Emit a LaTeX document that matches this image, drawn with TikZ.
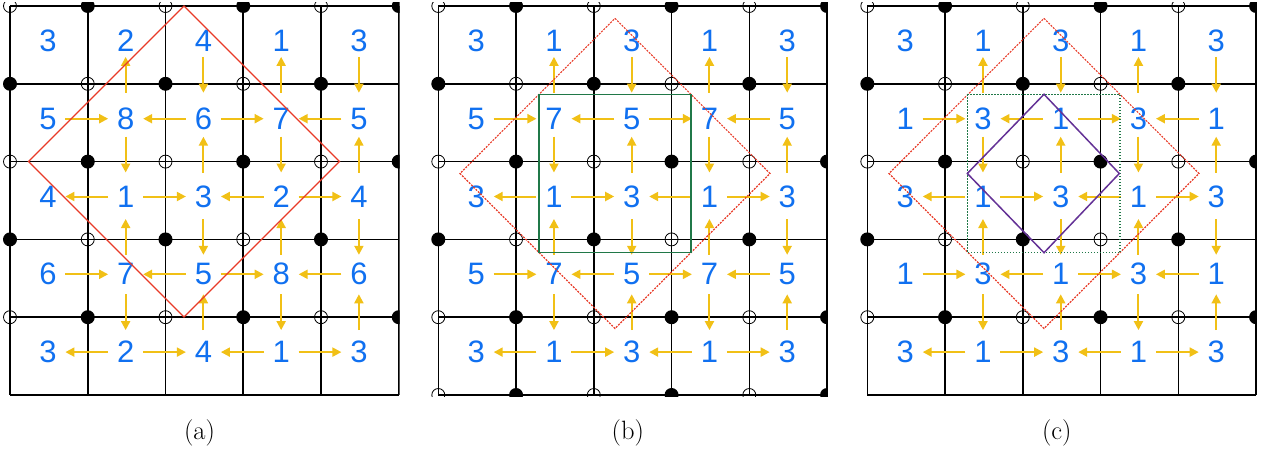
\documentclass[tikz,border=0pt]{standalone}
\usepackage{fontspec}
\newfontfamily\numfont{Liberation Sans}
\usetikzlibrary{arrows.meta}
\definecolor{numblue}{RGB}{16,112,240}
\definecolor{arryel}{RGB}{241,192,22}
\definecolor{redl}{RGB}{232,58,40}
\definecolor{greenl}{RGB}{32,120,72}
\definecolor{purl}{RGB}{100,50,150}
\tikzset{
  gridline/.style={line width=1.6pt, black},
  num/.style={text=numblue, font=\numfont\fontsize{31}{32}\selectfont, inner sep=0pt},
  yarrow/.style={draw=arryel, line width=2pt, -{Triangle[length=9pt,width=9pt]}},
  redsolid/.style={draw=redl, line width=1.3pt, line join=miter},
  reddot/.style={draw=redl, line width=1.1pt, dash pattern=on 2pt off 1.2pt},
  greensolid/.style={draw=greenl, line width=1.5pt},
  greendot/.style={draw=greenl, line width=1.1pt, dash pattern=on 1.2pt off 1.8pt},
  purpline/.style={draw=purl, line width=1.5pt},
  lab/.style={font=\fontsize{26.5}{30}\selectfont, inner sep=0pt},
}
% #1 panel name, #2 x origin, #3 rows of numbers, #4 bottom dots (1/0)
\newcommand\drawpanel[4]{%
  \begin{scope}
    \clip (#2-9,3) rectangle (#2+389.5,396);
    \foreach \i in {0,...,5} {
      \draw[gridline] (#2+\i*77.75,6) -- (#2+\i*77.75,395);
      \draw[gridline] (#2,6+\i*77.8) -- (#2+388.75,6+\i*77.8);
    }
    \foreach \j in {0,...,4} {
      \foreach \i in {0,...,4} {
        \pgfmathtruncatemacro\parity{mod(\i+\j,2)}
        \ifnum\parity=1
          \fill (#2+\i*77.75,6+\j*77.8) circle (7pt);
        \else
          \draw[line width=0.8pt] (#2+\i*77.75,6+\j*77.8) circle (6.5pt);
        \fi
      }
    }
    \foreach \j in {0,2,4} { \fill (#2+5*77.75,6+\j*77.8) circle (7pt); }
    \ifnum#4=1
      \foreach \i in {0,2,4} { \draw[line width=0.8pt] (#2+\i*77.75,395) circle (6.5pt); }
      \foreach \i in {1,3,5} { \fill (#2+\i*77.75,395) circle (7pt); }
    \fi
  \end{scope}
  \foreach \row [count=\rr from 0] in {#3} {
    \foreach \v [count=\cc from 0] in \row {
      \node[num] (#1-\rr-\cc) at (#2+\cc*77.75+38.9-1, 6+\rr*77.8+38.9-4) {\v};
    }
  }
  \foreach \r in {1,...,4} {
    \foreach \c in {0,...,3} {
      \pgfmathtruncatemacro\cn{\c+1}
      \pgfmathtruncatemacro\dir{mod(\r+\c,2)}
      \ifnum\dir=1
        \draw[yarrow, shorten <=17.5pt, shorten >=17.5pt] (#1-\r-\c.center) -- (#1-\r-\cn.center);
      \else
        \draw[yarrow, shorten <=17.5pt, shorten >=17.5pt] (#1-\r-\cn.center) -- (#1-\r-\c.center);
      \fi
    }
  }
  \foreach \r/\d in {0/-5,1/-3,2/1.5,3/-1} {
    \foreach \c in {1,...,4} {
      \pgfmathtruncatemacro\rn{\r+1}
      \pgfmathtruncatemacro\dir{mod(\r+\c,2)}
      \pgfmathsetmacro\sa{21+\d}
      \pgfmathsetmacro\sb{21-\d}
      \ifnum\dir=1
        \draw[yarrow, shorten <=\sb pt, shorten >=\sa pt] (#1-\rn-\c.center) -- (#1-\r-\c.center);
      \else
        \draw[yarrow, shorten <=\sa pt, shorten >=\sb pt] (#1-\r-\c.center) -- (#1-\rn-\c.center);
      \fi
    }
  }
}
\begin{document}
\begin{tikzpicture}[x=1pt,y=-1pt]
\useasboundingbox (0,0) rectangle (1268,452);
% panel (a)
\drawpanel{a}{10}{{3,2,4,1,3},{5,8,6,7,5},{4,1,3,2,4},{6,7,5,8,6},{3,2,4,1,3}}{0}
\draw[redsolid] (10+174,6) -- (10+174+155.5,161.5) -- (10+174,317) -- (10+174-155.5,161.5) -- cycle;
\node[lab] (lab-a) at (10+189.5,432.5) {(a)};
% panel (b)
\drawpanel{b}{438.3}{{3,1,3,1,3},{5,7,5,7,5},{3,1,3,1,3},{5,7,5,7,5},{3,1,3,1,3}}{1}
\draw[reddot] (438.3+176.7,18.3) -- (438.3+176.7+155,173.5) -- (438.3+176.7,328.5) -- (438.3+176.7-155,173.5) -- cycle;
\draw[greensolid] (438.3+100.7,94.3) rectangle (438.3+252.5,252.5);
\node[lab] (lab-b) at (438.3+189.5,432.5) {(b)};
% panel (c)
\drawpanel{c}{867.3}{{3,1,3,1,3},{1,3,1,3,1},{3,1,3,1,3},{1,3,1,3,1},{3,1,3,1,3}}{0}
\draw[reddot] (867.3+176.7,18.3) -- (867.3+176.7+155,173.5) -- (867.3+176.7,328.5) -- (867.3+176.7-155,173.5) -- cycle;
\draw[greendot] (867.3+100,94.3) rectangle (867.3+252.7,252.7);
\draw[purpline] (867.3+176.7,94.3) -- (867.3+252,173.5) -- (867.3+176.7,252.7) -- (867.3+100,173.5) -- cycle;
\node[lab] (lab-c) at (867.3+189.5,432.5) {(c)};
\end{tikzpicture}
\end{document}
